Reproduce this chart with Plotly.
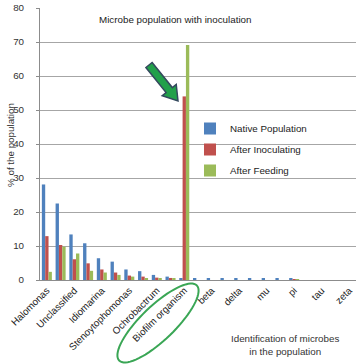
import numpy as np
import plotly.graph_objects as go

# ---------------- data ----------------
categories = [
    "Halomonas", "Marinobacter", "Unclassified", "Pseudomonas", "Idiomarina",
    "Bacillus", "Stenoytophomonas", "Vibrio", "Ochrobactrum", "Alcanivorax",
    "Biofilm organism", "alpha", "beta", "gamma", "delta", "epsilon", "mu",
    "nu", "pi", "rho", "tau", "upsilon", "zeta",
]
shown_ticks = ["Halomonas", "Unclassified", "Idiomarina", "Stenoytophomonas",
               "Ochrobactrum", "Biofilm organism", "beta", "delta", "mu",
               "pi", "tau", "zeta"]

native_population = [28.1, 22.5, 13.4, 10.8, 6.4, 5.4, 3.1, 2.6, 1.5, 1.0,
                     0.4, 0.4, 0.4, 0.3, 0.3, 0.3, 0.3, 0.3, 0.4, 0, 0, 0, 0]
after_inoculating = [12.9, 10.3, 6.1, 4.9, 3.1, 2.2, 1.3, 1.0, 0.7, 0.6,
                     54.0, 0, 0, 0, 0, 0, 0, 0, 0.2, 0, 0, 0, 0]
after_feeding = [2.4, 9.8, 7.8, 2.7, 2.2, 1.5, 1.0, 0.4, 0.3, 0.3,
                 69.1, 0, 0, 0, 0, 0, 0, 0, 0.2, 0, 0, 0, 0]

series_names = ["Native Population", "After Inoculating", "After Feeding"]
series_colors = ["#4F81BD", "#C0504D", "#9BBB59"]

# ---------------- layout geometry (pixels) ----------------
W_FIG, H_FIG = 360, 364
L, R, T, B = 40, 4, 8, 84
PW, PH = W_FIG - L - R, H_FIG - T - B


def px2paper(x, y):
    return (x - L) / PW, (H_FIG - B - y) / PH


FONT = "Liberation Sans, Arial, sans-serif"
FS = 9.8

fig = go.Figure()
for name, vals, col in zip(series_names,
                           [native_population, after_inoculating, after_feeding],
                           series_colors):
    fig.add_trace(go.Bar(x=categories, y=vals, name=name, marker_color=col,
                         marker_line_width=0, legendgroup=name))

# ---- ellipse around "Biofilm organism" ----
cx, cy, a, b, ang = 158, 323, 54, 17, np.deg2rad(-44)
t = np.linspace(0, 2 * np.pi, 73)
ex = cx + a * np.cos(t) * np.cos(ang) - b * np.sin(t) * np.sin(ang)
ey = cy + a * np.cos(t) * np.sin(ang) + b * np.sin(t) * np.cos(ang)
pts = [px2paper(x, y) for x, y in zip(ex, ey)]
path = "M" + " L".join(f"{p[0]:.4f},{p[1]:.4f}" for p in pts) + " Z"
shapes = [dict(type="path", xref="paper", yref="paper", path=path,
               line=dict(color="#3AA655", width=2), fillcolor="rgba(0,0,0,0)")]

# ---- block arrow ----
tail = np.array([149.0, 65.0])
tip = np.array([178.0, 101.0])
u = (tip - tail) / np.linalg.norm(tip - tail)
n = np.array([u[1], -u[0]])
hw, hhw, hl = 4.0, 9.0, 14.0
base = tip - u * hl
apts = [tail + n * hw, base + n * hw, base + n * hhw, tip,
        base - n * hhw, base - n * hw, tail - n * hw]
apts = [px2paper(p[0], p[1]) for p in apts]
apath = "M" + " L".join(f"{p[0]:.4f},{p[1]:.4f}" for p in apts) + " Z"
shapes.append(dict(type="path", xref="paper", yref="paper", path=apath,
                   line=dict(color="#34495E", width=1.5), fillcolor="#22A04A"))

tx, ty = px2paper(175, 20)
xx, xy = px2paper(285, 345)
yx, yy = px2paper(10, 145)
annotations = [
    dict(text="Microbe population with inoculation", x=tx, y=ty,
         xref="paper", yref="paper", showarrow=False,
         xanchor="center", yanchor="middle",
         font=dict(size=FS, color="#222222", family=FONT)),
    dict(text="Identification of microbes<br>in the population", x=xx, y=xy,
         xref="paper", yref="paper", showarrow=False,
         xanchor="center", yanchor="middle",
         font=dict(size=FS, color="#333333", family=FONT)),
    dict(text="% of the population", x=yx, y=yy, textangle=-90,
         xref="paper", yref="paper", showarrow=False,
         xanchor="center", yanchor="middle",
         font=dict(size=FS, color="#333333", family=FONT)),
]

lx, ly = px2paper(190, 114)
fig.update_layout(
    width=W_FIG, height=H_FIG,
    margin=dict(l=L, r=R, t=T, b=B, autoexpand=False),
    paper_bgcolor="white", plot_bgcolor="white",
    barmode="group", bargap=0.27, bargroupgap=0,
    font=dict(family=FONT, size=FS, color="#333333"),
    legend=dict(x=lx, y=ly, xanchor="left", yanchor="top",
                bgcolor="rgba(0,0,0,0)", font=dict(size=FS, color="#222222"),
                traceorder="grouped", tracegroupgap=2),
    shapes=shapes, annotations=annotations,
    xaxis=dict(type="category", range=[-0.5, len(categories) - 0.5],
               tickmode="array", tickvals=shown_ticks, ticktext=shown_ticks,
               tickangle=-45, ticks="", showgrid=False,
               showline=True, linecolor="#8C8C8C", linewidth=1,
               tickfont=dict(size=FS, color="#222222"), automargin=False),
    yaxis=dict(range=[0, 80], dtick=10, showgrid=True, gridcolor="#A6A6A6",
               gridwidth=1, showline=True, linecolor="#8C8C8C", linewidth=1,
               ticks="outside", ticklen=3, tickcolor="#8C8C8C",
               ticklabelstandoff=10, zeroline=False,
               tickfont=dict(size=FS, color="#333333"),
               automargin=False),
)

fig.write_html("out.html", config={"displayModeBar": False},
               post_script="document.body.style.margin='0';"
                           "document.body.style.padding='0';")
